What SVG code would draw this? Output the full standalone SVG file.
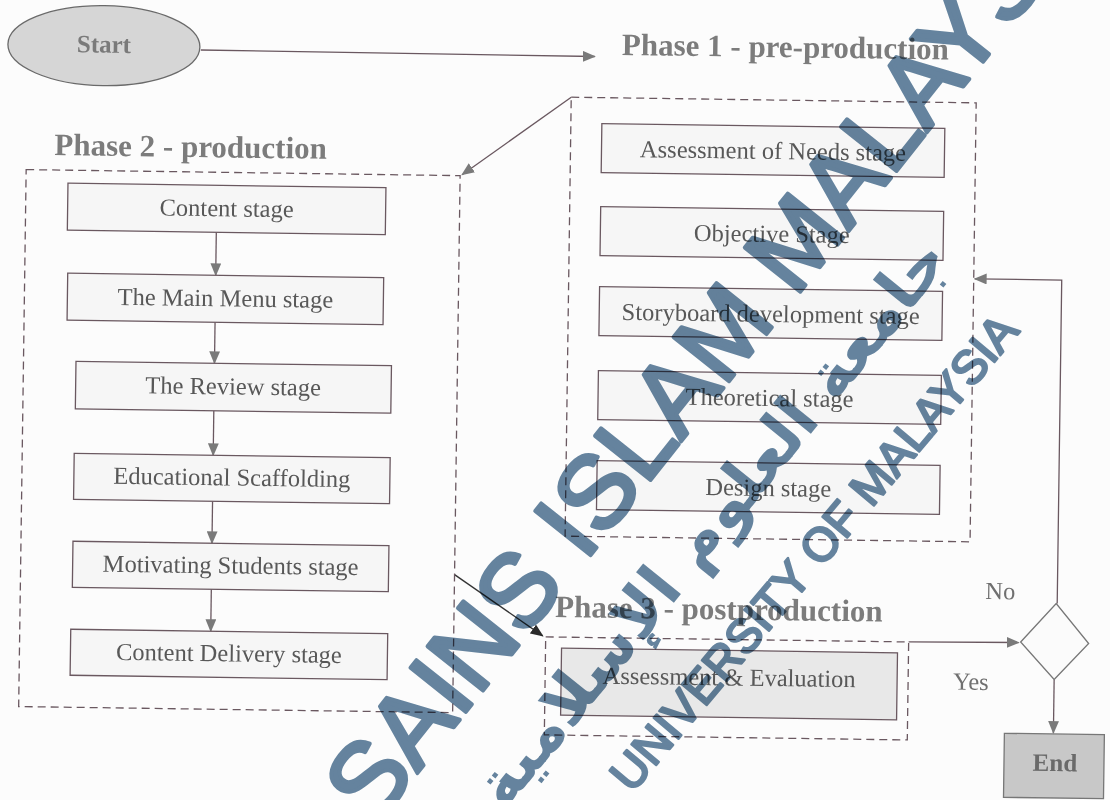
<svg xmlns="http://www.w3.org/2000/svg" width="1110" height="800" viewBox="0 0 1110 800">
<style>
.box{fill:#f6f6f6;stroke:#6a5860;stroke-width:1.3}
.gbox{fill:#e8e8e8;stroke:#6a5860;stroke-width:1.3}
.dash{fill:none;stroke:#6a5860;stroke-width:1.3;stroke-dasharray:8 5}
.lbl{font-family:"Liberation Serif","Times New Roman",serif;font-size:24.5px;fill:#585858;text-anchor:middle}
.title{font-family:"Liberation Serif","Times New Roman",serif;font-weight:bold;font-size:31px;fill:#7c7c7c}
.conn{fill:none;stroke:#6a5860;stroke-width:1.3;marker-end:url(#ah)}
.yn{font-family:"Liberation Serif","Times New Roman",serif;font-size:24.5px;fill:#707070}
.wm{font-family:"Liberation Sans",Arial,sans-serif;fill:#557896;stroke:#557896;stroke-linejoin:round}
</style>
<defs>
<marker id="ah" viewBox="0 0 12 10" refX="11" refY="5" markerWidth="13" markerHeight="11" orient="auto" markerUnits="userSpaceOnUse"><path d="M0,0 L12,5 L0,10 z" fill="#7a7a7a"/></marker>
<marker id="ahd" viewBox="0 0 12 10" refX="11" refY="5" markerWidth="13" markerHeight="11" orient="auto" markerUnits="userSpaceOnUse"><path d="M0,0 L12,5 L0,10 z" fill="#2a2a2a"/></marker>
</defs>
<rect x="0" y="0" width="1110" height="800" fill="#fcfcfc"/>
<g transform="rotate(0.8 555 400)">
<g id="connectors">
<path class="conn" d="M196,55 L590,56"/>
<path class="conn" d="M567,97 L459,176"/>
<path class="conn" d="M214,237 V280"/>
<path class="conn" d="M214,327 V368"/>
<path class="conn" d="M214,415.5 V460"/>
<path class="conn" d="M214,506 V548"/>
<path class="conn" d="M214,594 V636"/>
<path class="conn" d="M457,576 L546,636" style="stroke:#333;marker-end:url(#ahd)"/>
<path class="conn" d="M912,637 L1022,636"/>
<path class="conn" d="M1060,596.5 V273 H973"/>
<path class="conn" d="M1058,672.5 V726"/>
</g>
<g id="start">
<ellipse cx="99" cy="52" rx="96" ry="40" fill="#d6d6d6" stroke="#6a6a6a" stroke-width="1.3"/>
<text x="99" y="59" style="font-family:'Liberation Serif','Times New Roman',serif;font-weight:bold;font-size:25px;fill:#7a7a7a;text-anchor:middle">Start</text>
</g>
<g id="phase1">
<text class="title" x="617" y="54">Phase 1 - pre-production</text>
<rect class="dash" x="567" y="97" width="405" height="439"/>
<g id="p1-needs"><rect class="box" x="598" y="123" width="343" height="49"/><text class="lbl" x="769.5" y="156">Assessment of Needs stage</text></g>
<g id="p1-objective"><rect class="box" x="598" y="206" width="343" height="49"/><text class="lbl" x="769.5" y="239">Objective Stage</text></g>
<g id="p1-storyboard"><rect class="box" x="598" y="286" width="343" height="49"/><text class="lbl" x="769.5" y="319">Storyboard development stage</text></g>
<g id="p1-theoretical"><rect class="box" x="598" y="370" width="343" height="49"/><text class="lbl" x="769.5" y="403">Theoretical stage</text></g>
<g id="p1-design"><rect class="box" x="598" y="460" width="343" height="49"/><text class="lbl" x="769.5" y="493">Design stage</text></g>
</g>
<g id="phase2">
<text class="title" x="51" y="162">Phase 2 - production</text>
<rect class="dash" x="23" y="177" width="434" height="537"/>
<g id="p2-content"><rect class="box" x="65" y="190" width="318" height="47"/><text class="lbl" x="224" y="221">Content stage</text></g>
<g id="p2-menu"><rect class="box" x="66" y="280" width="316" height="47"/><text class="lbl" x="224" y="311">The Main Menu stage</text></g>
<g id="p2-review"><rect class="box" x="75.5" y="368" width="315.5" height="47.5"/><text class="lbl" x="233" y="399">The Review stage</text></g>
<g id="p2-scaffolding"><rect class="box" x="75" y="460" width="316" height="46"/><text class="lbl" x="233" y="490">Educational Scaffolding</text></g>
<g id="p2-motivating"><rect class="box" x="75" y="548" width="316" height="46"/><text class="lbl" x="233" y="578">Motivating Students stage</text></g>
<g id="p2-delivery"><rect class="box" x="74" y="636" width="317" height="46"/><text class="lbl" x="232.5" y="666">Content Delivery stage</text></g>
</g>
<g id="phase3">
<text class="title" x="558" y="617">Phase 3 - postproduction</text>
<rect class="dash" x="549" y="637" width="363" height="98"/>
<g id="p3-assessment"><rect class="gbox" x="565" y="648" width="336" height="67"/><text class="lbl" x="733" y="683">Assessment &amp; Evaluation</text></g>
</g>
<g id="decision">
<polygon points="1024,635.5 1059,596.5 1092,636 1058,672.5" fill="#fbfbfb" stroke="#777" stroke-width="1.3"/>
<text class="yn" x="988" y="593">No</text>
<text class="yn" x="957" y="684">Yes</text>
</g>
<g id="end">
<rect x="1009" y="727" width="100" height="64" fill="#c8c8c8" stroke="#777" stroke-width="1.3"/>
<text x="1060" y="764" style="font-family:'Liberation Serif','Times New Roman',serif;font-weight:bold;font-size:25px;fill:#6a6a6a;text-anchor:middle">End</text>
</g>
</g>
<g id="watermark" style="mix-blend-mode:multiply" opacity="0.9">
<text class="wm" transform="translate(374.5 826.9) rotate(-51.5)" font-size="103" stroke-width="4">SAINS ISLAM MALAYSIA</text>
<text class="wm" transform="translate(632 794) rotate(-50)" font-size="47" stroke-width="2.5">UNIVERSITY OF MALAYSIA</text>
<text transform="translate(728 536) rotate(-51)" font-size="64" text-anchor="middle" style="font-family:'DejaVu Sans',sans-serif;font-weight:bold;fill:#557896">جامعة العلوم الإسلامية</text>
</g>
</svg>
